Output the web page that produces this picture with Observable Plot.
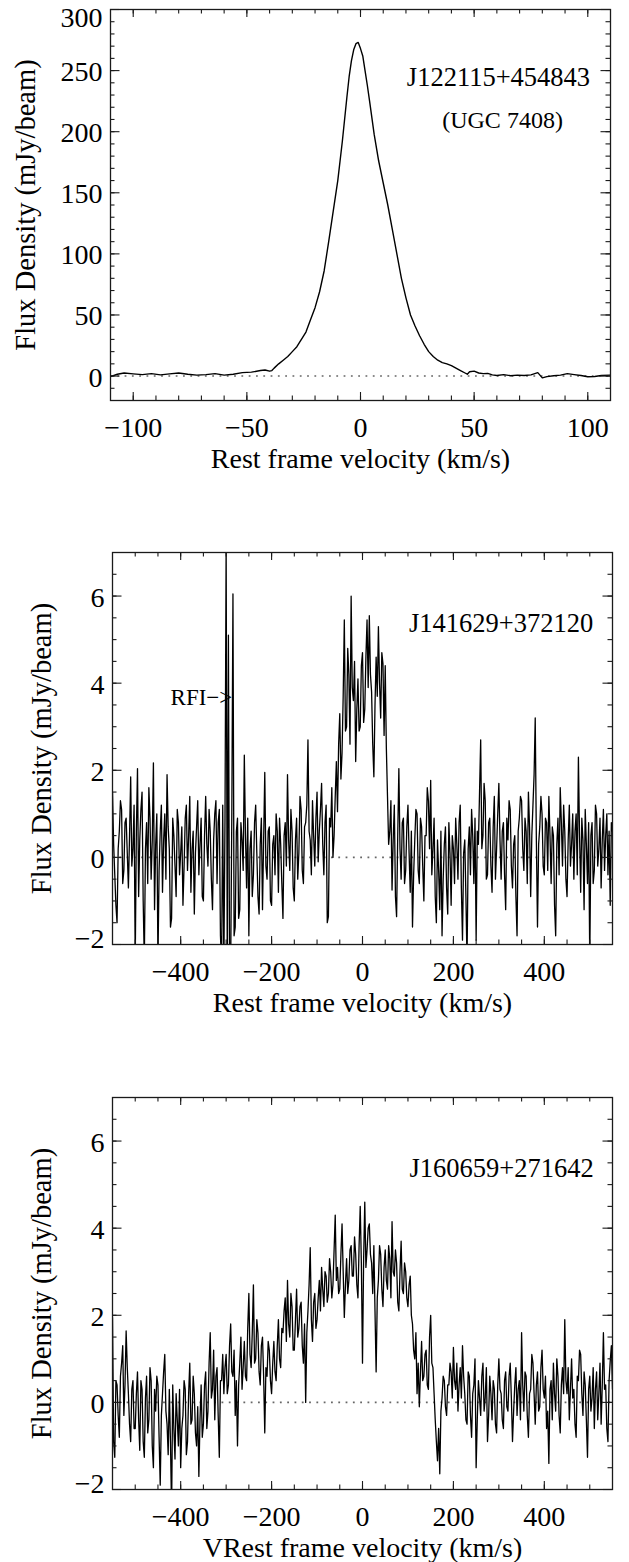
<!DOCTYPE html>
<html>
<head>
<meta charset="utf-8">
<script src="https://cdn.jsdelivr.net/npm/d3@7"></script>
<script src="https://cdn.jsdelivr.net/npm/@observablehq/plot@0.6"></script>
<style>
  html, body { margin: 0; padding: 0; background: white; overflow: hidden; }
  #chart svg { display: block; }
</style>
</head>
<body>
<div id="chart"></div>
<script>
// ---------- Panel 1: J122115+454843 (UGC 7408) ----------
const p1Vel = [-110,-107,-104,-100,-96,-92,-88,-84,-80,-76,-72,-68,-64,-60,-56,-52,-48,-44,-42,-40,-39,-38,
  -36,-34,-32,-30,-28,-26,-24,-22,-20,-18,-16,-14,-12,-10,-8,-6,-5,-4,-3,-2,-1,0,1,2,3,4,
  6,8,10,12,14,16,18,20,22,24,26,28,30,32,34,36,38,40,42,44,46,47,48,50,52,54,56,58,60,
  63,66,69,72,75,78,80,82,85,88,91,94,97,100,103,106,110];
const p1Flux = [-0.5,1.5,2.5,1.8,1.2,2.0,1.0,1.8,2.5,1.5,0.8,1.2,2.0,0.8,1.5,2.8,3.2,4.5,5.0,4.0,4.5,6.5,
  10,13,16,20,24,30,36,46,56,69,86,110,135,160,192,228,245,258,267,272,273,268,262,250,238,225,
  198,176,158,140,120,100,80,64,50,41,33,26,20,16,13,11,10,8.5,6.5,4.5,2.5,1.5,3.5,4.0,2.5,2.0,2.2,1.0,0.5,
  1.2,0.3,0.8,0.5,1.0,2.8,-1.5,-0.5,0.3,0.8,2.0,1.2,0.5,-0.6,-0.4,0.5,0.8];

// ---------- Panels 2 & 3: channels from -550 km/s, 2.5 km/s apart (one row = 50 km/s) ----------
const chanStart = -550, chanStep = 2.5;
const p2Flux = [
  1.5,0.3,-0.4,-1.1,-1.5,0.2,0.6,1.3,1.1,-0.6,-0.3,0.8,0.9,0.1,-0.7,0.5,1.85,-0.2,0.2,1.2,
  -2.4,0.6,2.04,-0.9,0.4,1.1,1.5,-1.0,-2.4,0.2,0.8,-0.6,1.6,0.9,-0.5,0.4,2.17,-1.2,0.3,1.0,
  -2.4,-0.3,0.6,1.2,-0.8,0.4,1.0,-0.5,1.9,0.7,0.2,-1.6,-1.4,0.9,0.5,-0.2,-0.9,1.1,0.8,-0.4,
  0.1,0.7,-1.1,-0.2,0.9,1.2,-0.3,0.5,1.4,-0.8,0.2,0.6,-1.3,0.1,0.7,1.3,-0.4,0.3,0.9,-0.9,
  -1.0,0.5,1.4,0.3,-0.2,1.1,0.6,-0.5,-1.2,0.4,1.0,1.3,-0.6,0.8,1.1,-1.8,-2.5,1.2,-2.5,0.9,
  7.2,-2.5,5.1,-2.5,-2.5,1.0,6.05,-1.8,-1.6,0.6,0.9,-1.4,-1.2,0.8,0.4,-0.3,2.35,0.5,-0.7,0.9,
  -1.8,0.2,0.6,-0.9,-0.4,0.8,1.2,0.1,-0.9,-1.3,0.3,0.9,-1.2,0.4,1.95,-0.2,-0.5,0.6,0.7,-1.0,
  -1.1,0.3,0.5,-0.4,1.0,0.6,-0.8,0.9,0.3,-0.6,-1.4,0.5,0.8,-0.2,1.9,0.4,-0.3,1.1,0.6,-0.7,
  -1.0,0.4,0.9,-0.5,0.1,1.4,1.1,-0.3,-0.6,0.7,0.8,1.2,2.7,0.6,0.4,-0.4,1.3,0.5,-0.2,0.9,
  1.5,-0.1,0.6,1.1,1.7,0.3,-0.4,0.8,1.2,-1.5,-1.36,0.9,0.7,1.6,0.0,0.5,1.4,2.2,1.05,2.6,
  3.3,1.8,2.4,3.7,5.45,2.9,3.0,4.8,4.2,2.6,6.0,3.9,3.6,4.5,2.2,3.4,4.1,2.9,3.0,4.4,
  4.7,3.1,3.4,4.6,5.45,3.9,5.55,4.2,3.8,2.6,1.85,3.5,4.6,3.7,5.3,4.0,3.2,4.7,4.45,2.8,
  4.4,2.5,1.4,0.3,0.6,1.3,-0.75,0.4,1.2,-0.9,-1.36,0.5,2.04,0.2,-0.5,0.8,0.9,-0.6,-0.3,0.7,
  1.2,0.1,-0.8,0.6,-1.6,-0.4,0.4,1.1,1.0,-0.3,-0.6,0.9,0.7,-0.2,-1.0,0.5,0.5,1.6,1.3,0.2,
  1.77,-0.4,0.2,0.9,-0.9,-1.5,0.4,-0.3,-1.2,0.6,-1.8,-0.5,0.3,0.7,-0.7,-1.3,0.8,0.1,-1.1,0.5,
  0.2,-0.6,0.9,0.3,-0.5,0.8,1.2,-0.7,-1.9,0.1,0.4,-0.9,-2.4,0.2,0.7,-0.4,1.1,0.5,-0.6,0.9,
  -1.9,0.6,0.3,1.5,2.7,0.2,0.5,1.7,1.3,-0.5,-0.4,0.8,0.9,-0.2,-0.8,0.7,1.4,-0.5,0.2,1.0,
  1.7,0.4,-0.5,0.6,0.8,-0.4,-1.2,0.9,0.4,1.3,1.1,-0.2,-0.7,0.3,0.5,-0.9,-1.8,0.6,0.9,1.4,
  1.3,0.2,-0.3,0.9,0.6,-0.6,1.5,0.7,-0.9,0.5,1.2,1.9,3.2,0.4,-1.6,0.3,0.7,1.4,1.0,-0.2,
  -0.4,0.9,0.8,-0.3,1.4,0.5,-0.6,0.7,0.5,-1.1,-1.8,0.3,0.9,-0.4,1.6,0.8,-0.2,1.2,0.6,-0.5,
  -0.9,0.4,1.2,-0.2,0.3,1.0,-0.5,0.6,1.0,-0.4,2.3,0.5,-0.8,0.9,0.4,-1.2,1.1,0.3,-0.6,0.8,
  -2.4,0.5,0.8,-0.6,-0.3,1.2,1.0,-0.2,0.2,0.9,-0.7,0.4,1.1,-0.3,0.5,1.0,-0.4,0.6,-1.1,0.8,
  0.6];
const p3Flux = [
  1.95,-0.9,-1.26,0.5,0.4,-0.3,-0.8,0.6,0.9,1.3,-0.3,0.4,1.64,0.8,0.2,-0.5,-0.9,0.3,0.5,-0.6,
  -0.6,0.2,0.7,-0.4,-1.1,0.5,0.3,-0.9,-1.26,0.1,0.6,-0.7,-0.4,0.8,0.5,-1.0,-1.5,0.3,-0.2,0.6,
  0.4,-0.8,-1.9,-0.3,0.2,0.7,1.1,-0.2,-0.5,-1.2,0.3,-0.9,-2.5,0.4,-0.6,-1.3,0.2,-0.4,-1.0,0.3,
  -1.5,-0.6,-0.3,0.5,0.3,-1.2,-0.9,0.2,0.9,-0.5,-0.4,0.6,0.2,-0.7,-1.0,-0.1,-1.7,-0.4,0.4,-0.8,
  -0.5,0.4,0.7,-0.6,-0.2,0.9,1.6,0.1,0.3,1.2,-0.4,0.6,0.8,-0.3,-1.26,0.5,0.5,1.1,0.2,0.8,
  1.1,0.2,0.4,1.3,1.8,0.7,0.6,1.2,-0.3,0.5,-1.0,0.4,0.9,1.5,0.3,0.8,1.4,0.6,0.5,1.7,
  2.5,1.1,0.8,1.6,2.7,0.9,1.0,1.9,1.6,0.7,0.4,1.3,1.5,0.6,-0.7,0.8,0.6,1.4,1.2,0.5,
  0.2,0.9,1.4,0.7,0.5,1.3,1.9,1.0,0.8,1.7,1.6,2.1,2.4,1.4,2.8,1.8,1.5,2.5,2.2,1.2,
  1.2,1.9,2.6,1.5,1.7,2.2,2.3,1.3,0.9,1.8,0.0,1.6,2.1,2.7,3.55,1.9,1.4,2.3,2.5,1.7,
  1.9,2.4,2.8,2.1,3.1,2.6,2.2,3.0,2.9,2.3,2.5,3.3,3.0,2.4,2.7,3.5,4.3,2.8,3.1,2.5,
  2.6,3.4,4.1,3.0,1.95,2.7,3.3,2.5,2.8,3.5,3.6,2.9,2.9,3.8,3.4,2.7,2.4,3.6,4.5,3.2,
  0.9,3.3,4.6,3.1,3.5,4.0,4.1,3.4,3.2,2.5,3.6,2.1,0.7,2.4,2.8,3.6,3.4,2.6,2.2,3.1,
  3.5,2.8,2.6,3.6,3.3,2.4,4.15,3.0,2.9,3.5,3.2,2.3,2.1,3.0,3.7,2.6,2.5,3.2,3.0,2.4,
  2.2,2.7,2.9,2.0,1.8,1.2,1.0,1.6,0.2,0.9,-0.1,0.7,1.4,0.5,0.6,1.1,1.2,0.4,0.3,1.5,
  2.0,0.9,0.8,0.2,-0.4,-0.9,-1.34,-0.6,-1.64,-0.2,0.1,0.6,0.5,-0.1,-0.3,0.4,0.4,0.9,0.7,0.1,
  1.26,0.5,0.3,0.9,-0.2,0.4,0.8,0.1,1.3,0.6,0.2,-0.4,-0.5,0.7,0.6,-0.3,-0.8,0.2,0.4,1.0,
  -1.5,-0.4,0.5,0.1,-0.3,0.6,0.9,-0.2,0.1,0.8,-0.9,-0.3,0.6,0.2,-0.4,0.5,0.3,-0.5,-0.7,0.4,
  1.0,0.3,0.2,-0.4,-0.6,0.5,0.7,-0.1,-0.2,0.6,0.9,0.1,-0.9,-0.2,0.4,0.8,-0.3,0.3,0.5,-0.4,
  1.6,0.4,-0.2,0.7,0.6,-0.3,-0.8,0.2,0.3,1.1,0.9,0.2,-0.5,0.4,0.7,-0.2,-0.1,0.8,1.2,0.3,
  0.1,0.6,-0.6,-0.2,-1.4,0.3,0.5,-0.4,0.9,0.2,-0.2,1.0,0.6,-0.3,-0.7,0.4,0.8,0.2,1.9,0.5,
  0.2,0.8,-0.4,0.3,1.0,0.1,0.3,-0.5,-0.8,0.6,0.5,1.2,1.1,0.2,-0.3,0.7,0.4,-0.4,-1.26,0.3,
  0.6,-0.2,0.1,0.8,-0.6,0.3,0.7,-0.4,0.2,0.9,-0.5,0.4,1.6,0.3,0.4,-0.6,-0.9,0.5,0.95,1.3,
  0.3];

// ---------- Ticks ----------
const p1XMajor = [-100, -50, 0, 50, 100];
const p1XMinor = [-100,-90,-80,-70,-60,-50,-40,-30,-20,-10,0,10,20,30,40,50,60,70,80,90,100];
const p1YMajor = [0, 50, 100, 150, 200, 250, 300];
const p1YMinor = [-10,0,10,20,30,40,50,60,70,80,90,100,110,120,130,140,150,160,170,180,190,200,
  210,220,230,240,250,260,270,280,290];
const p1YLabels = [0, 50, 100, 150, 200, 250];
const p1YLabelTop = [300];

const wXMajor = [-400, -200, 0, 200, 400];
const wXMinor = [-500,-450,-400,-350,-300,-250,-200,-150,-100,-50,0,50,100,150,200,250,300,350,400,450,500];
const wYMajor = [-2, 0, 2, 4, 6];
const wYMinor = [-1.5,-1,-0.5,0,0.5,1,1.5,2,2.5,3,3.5,4,4.5,5,5.5,6,6.5];
const wYLabels = [0, 2, 4, 6];
const wYLabelBottom = [-2];

// ---------- Text annotations ----------
const p1Labels = [
  {v: 60.7, f: 244, text: "J122115+454843", size: 26.5},
  {v: 62.5, f: 209, text: "(UGC 7408)", size: 24}
];
const p2Labels = [{v: 304.7, f: 5.37, text: "J141629+372120", size: 26.5}];
const p2Rfi = [{v: -286.5, f: 3.67, text: "RFI\u2212>", size: 23}];
const p3Labels = [{v: 305.8, f: 5.37, text: "J160659+271642", size: 26.5}];

const fmt = d => d < 0 ? "\u2212" + Math.abs(d) : String(d);
const FONT = "'Liberation Serif', 'Times New Roman', Times, serif";
const WIDTH = 629;

function panel(o) {
  const W = WIDTH - o.marginLeft - o.marginRight;
  const H = o.height - o.marginTop - o.marginBottom;
  const series = o.vel.map((v, i) => ({v, f: o.flux[i]}));
  const tickStyle = {stroke: "#1a1a1a", strokeWidth: 1.1};
  const majX = 8, minX = 4.5, majY = 9.5, minY = 4.5;
  const marks = [
    Plot.ruleY([0], {stroke: "#666", strokeWidth: 1.6, strokeDasharray: "1.8,5.5"}),
    Plot.line(series, {x: "v", y: "f", stroke: "black", strokeWidth: o.lineWidth, clip: true}),
    // inward ticks, bottom & top
    Plot.tickX(o.xMinor, {x: d => d, insetTop: H - minX, ...tickStyle}),
    Plot.tickX(o.xMinor, {x: d => d, insetBottom: H - minX, ...tickStyle}),
    Plot.tickX(o.xMajor, {x: d => d, insetTop: H - majX, ...tickStyle}),
    Plot.tickX(o.xMajor, {x: d => d, insetBottom: H - majX, ...tickStyle}),
    // inward ticks, left & right
    Plot.tickY(o.yMinor, {y: d => d, insetRight: W - minY, ...tickStyle}),
    Plot.tickY(o.yMinor, {y: d => d, insetLeft: W - minY, ...tickStyle}),
    Plot.tickY(o.yMajor, {y: d => d, insetRight: W - majY, ...tickStyle}),
    Plot.tickY(o.yMajor, {y: d => d, insetLeft: W - majY, ...tickStyle}),
    Plot.frame({stroke: "#1a1a1a", strokeWidth: 1.3}),
    // tick labels
    Plot.text(o.xMajor, {x: d => d, frameAnchor: "bottom", dy: 28, text: fmt, fontSize: 28, textAnchor: "middle", lineAnchor: "middle", fill: "black"}),
    Plot.text(o.yLabels, {y: d => d, frameAnchor: "left", dx: -8, dy: 1.5, textAnchor: "end", text: fmt, fontSize: 28, lineAnchor: "middle", fill: "black"}),
    // axis titles
    Plot.text([o.xTitle], {frameAnchor: "bottom", dy: 59, text: d => d, fontSize: 28, textAnchor: "middle", lineAnchor: "middle", fill: "black"}),
    Plot.text(["Flux Density (mJy/beam)"], {frameAnchor: "left", dx: o.yTitleDx, rotate: -90, text: d => d, fontSize: 28.5, textAnchor: "middle", lineAnchor: "middle", fill: "black"}),
    // annotations
    Plot.text(o.labels, {x: "v", y: "f", text: "text", fontSize: d => d.size, textAnchor: "middle", lineAnchor: "middle", fill: "black"})
  ];
  if (o.yLabelTop) marks.push(Plot.text(o.yLabelTop, {y: d => d, frameAnchor: "left", dx: -8, dy: 8.6, textAnchor: "end", text: fmt, fontSize: 28, lineAnchor: "middle", fill: "black"}));
  if (o.yLabelBottom) marks.push(Plot.text(o.yLabelBottom, {y: d => d, frameAnchor: "left", dx: -8, dy: -5, textAnchor: "end", text: fmt, fontSize: 28, lineAnchor: "middle", fill: "black"}));
  if (o.rfi) marks.push(Plot.text(o.rfi, {x: "v", y: "f", text: "text", fontSize: d => d.size, textAnchor: "end", lineAnchor: "middle", fill: "black"}));
  return Plot.plot({
    width: WIDTH, height: o.height,
    marginLeft: o.marginLeft, marginRight: o.marginRight, marginTop: o.marginTop, marginBottom: o.marginBottom,
    style: {fontFamily: FONT, background: "white", color: "black"},
    x: {domain: o.xDomain, axis: null},
    y: {domain: o.yDomain, axis: null},
    marks
  });
}

const chanVel = arr => arr.map((_, i) => chanStart + i * chanStep);
const root = document.getElementById("chart");

root.append(panel({
  vel: p1Vel, flux: p1Flux, xDomain: [-110, 110], yDomain: [-20, 300], lineWidth: 1.4,
  xMajor: p1XMajor, xMinor: p1XMinor, yMajor: p1YMajor, yMinor: p1YMinor,
  yLabels: p1YLabels, yLabelTop: p1YLabelTop,
  height: 543, marginLeft: 110, marginRight: 19, marginTop: 9, marginBottom: 143,
  yTitleDx: -85, labels: p1Labels, xTitle: "Rest frame velocity (km/s)"
}));
root.append(panel({
  vel: chanVel(p2Flux), flux: p2Flux, xDomain: [-550, 550], yDomain: [-2, 7], lineWidth: 1.3,
  xMajor: wXMajor, xMinor: wXMinor, yMajor: wYMajor, yMinor: wYMinor,
  yLabels: wYLabels, yLabelBottom: wYLabelBottom,
  height: 545, marginLeft: 112, marginRight: 17, marginTop: 9, marginBottom: 144,
  yTitleDx: -71, labels: p2Labels, rfi: p2Rfi, xTitle: "Rest frame velocity (km/s)"
}));
root.append(panel({
  vel: chanVel(p3Flux), flux: p3Flux, xDomain: [-550, 550], yDomain: [-2, 7], lineWidth: 1.3,
  xMajor: wXMajor, xMinor: wXMinor, yMajor: wYMajor, yMinor: wYMinor,
  yLabels: wYLabels, yLabelBottom: wYLabelBottom,
  height: 474, marginLeft: 112, marginRight: 17, marginTop: 9, marginBottom: 73,
  yTitleDx: -71, labels: p3Labels, xTitle: "VRest frame velocity (km/s)"
}));
</script>
</body>
</html>
